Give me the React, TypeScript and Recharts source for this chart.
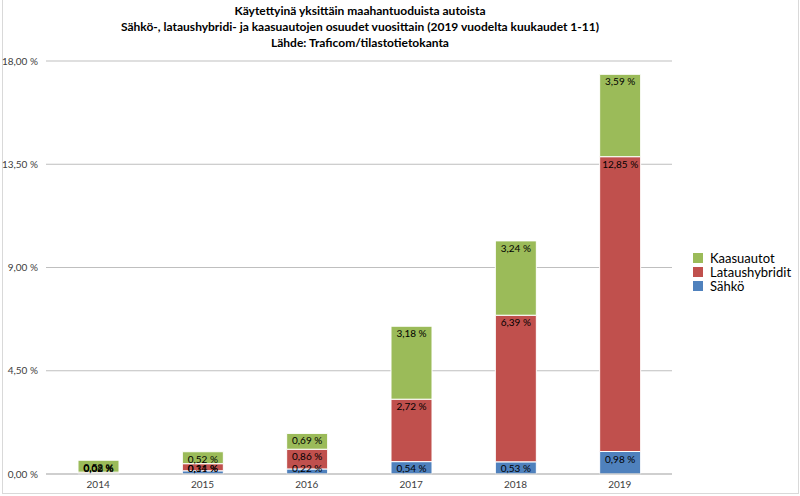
import { BarChart, Bar, XAxis, YAxis, CartesianGrid, LabelList } from "recharts";

const years = ["2014", "2015", "2016", "2017", "2018", "2019"];
const sahko = [0.02, 0.14, 0.22, 0.54, 0.53, 0.98];
const lataushybridit = [0.06, 0.31, 0.86, 2.72, 6.39, 12.85];
const kaasuautot = [0.52, 0.52, 0.69, 3.18, 3.24, 3.59];
const yTicks = [0, 4.5, 9, 13.5, 18];

const titleLines = [
  "Käytettyinä yksittäin maahantuoduista autoista",
  "Sähkö-, lataushybridi- ja kaasuautojen osuudet vuosittain (2019 vuodelta kuukaudet 1-11)",
  "Lähde: Traficom/tilastotietokanta",
];

const series = [
  { key: "sahko", name: "Sähkö", color: "#4F81BD" },
  { key: "lataushybridit", name: "Lataushybridit", color: "#C0504D" },
  { key: "kaasuautot", name: "Kaasuautot", color: "#9BBB59" },
];

const W = 800;
const H = 496;
const margin = { top: 61, right: 128, bottom: 2, left: 0 };
const xAxisHeight = 20;
const plotBottom = H - margin.bottom - xAxisHeight;
const labelH = 12;

// nbsp so recharts doesn't wrap "0,54 %" onto two lines
const fmt = (v: number) => v.toFixed(2).replace(".", ",") + "\u00a0%";

// Excel-style "inside end" label: top of segment, but never pushed below the axis
const SegmentLabel = (props: any) => {
  const { x, y, width, value } = props;
  const top = Math.min(Number(y) + 1, plotBottom - labelH);
  return (
    <text
      x={Number(x) + Number(width) / 2}
      y={top + labelH / 2}
      textAnchor="middle"
      dominantBaseline="central"
      fontSize={10}
      fontFamily="Lato"
      fill="#000"
    >
      {fmt(Number(value))}
    </text>
  );
};

export default function App() {
  const data = years.map((year, i) => ({
    year,
    sahko: sahko[i],
    lataushybridit: lataushybridit[i],
    kaasuautot: kaasuautot[i],
  }));

  return (
    <div
      style={{
        position: "absolute",
        left: 0,
        top: 0,
        width: W,
        height: H,
        background: "#fff",
        fontFamily: "Lato, sans-serif",
      }}
    >
      {/* chart frame */}
      <div
        style={{
          position: "absolute",
          left: 2,
          top: -1,
          width: 795,
          height: 493,
          border: "1px solid #d9d9d9",
        }}
      />
      {/* title */}
      <div
        style={{
          position: "absolute",
          left: 0,
          top: 3,
          width: 720,
          textAlign: "center",
          fontWeight: "bold",
          fontSize: 12,
          lineHeight: "16px",
          color: "#000",
        }}
      >
        {titleLines.map((t) => (
          <div key={t}>{t}</div>
        ))}
      </div>
      <BarChart
        width={W}
        height={H}
        data={data}
        margin={margin}
        barSize={41}
        style={{ position: "absolute", left: 0, top: 0 }}
      >
        <CartesianGrid vertical={false} stroke="#bfbfbf" />
        <XAxis
          dataKey="year"
          height={xAxisHeight}
          tickLine={false}
          axisLine={{ stroke: "#bfbfbf" }}
          tick={{ fontSize: 10, fill: "#404040", fontFamily: "Lato" }}
          tickMargin={1}
        />
        <YAxis
          width={46}
          domain={[0, 18]}
          ticks={yTicks}
          tickLine={false}
          axisLine={false}
          tickFormatter={fmt}
          tick={{ fontSize: 10, fill: "#404040", fontFamily: "Lato" }}
        />
        {series.map((s) => (
          <Bar
            key={s.key}
            dataKey={s.key}
            name={s.name}
            stackId="a"
            fill={s.color}
            stroke="#fff"
            strokeWidth={1}
            isAnimationActive={false}
          >
            <LabelList dataKey={s.key} content={SegmentLabel} />
          </Bar>
        ))}
      </BarChart>
      {/* legend */}
      <div
        style={{
          position: "absolute",
          left: 693,
          top: 251,
          fontSize: 13,
          lineHeight: "14px",
          color: "#000",
        }}
      >
        {[...series].reverse().map((s) => (
          <div key={s.key} style={{ display: "flex", alignItems: "center" }}>
            <div style={{ width: 10, height: 10, background: s.color, marginRight: 7 }} />
            <span>{s.name}</span>
          </div>
        ))}
      </div>
    </div>
  );
}
